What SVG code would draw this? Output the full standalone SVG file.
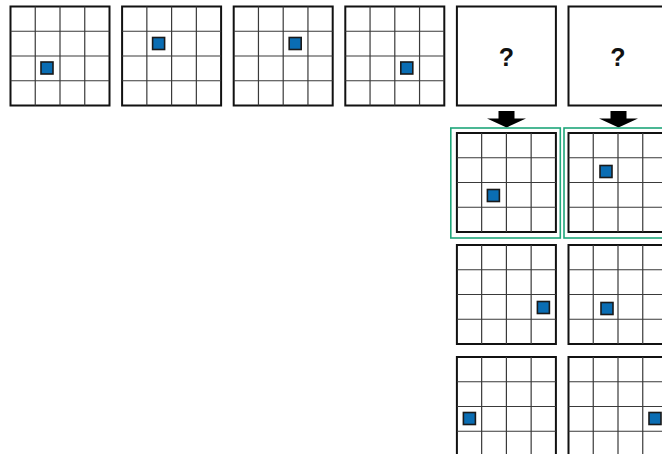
<svg xmlns="http://www.w3.org/2000/svg" xmlns:xlink="http://www.w3.org/1999/xlink" width="662" height="454" viewBox="0 0 662 454">
<style>
.border{fill:#fff;stroke:#111;stroke-width:2}
.gl{stroke:#3a3a3a;stroke-width:1.2;fill:none}
.sq{fill:#0a6db3;stroke:#1a1a1a;stroke-width:1.6}
.sel{fill:none;stroke:#1fa67a;stroke-width:1.6}
.q{font-family:"Liberation Sans",Arial,sans-serif;font-weight:bold;font-size:25px;text-anchor:middle;fill:#111}
.arr{fill:#000}
</style>
<defs>
<g id="grid">
<rect class="border" x="0" y="0" width="99" height="99"/>
<path class="gl" d="M24.75 0V99M49.5 0V99M74.25 0V99M0 24.75H99M0 49.5H99M0 74.25H99"/>
</g>
</defs>
<g id="p1" transform="translate(10.5,6.5)"><use xlink:href="#grid"/><rect class="sq" x="30.5" y="55.5" width="12" height="12"/></g>
<g id="p2" transform="translate(122.1,6.5)"><use xlink:href="#grid"/><rect class="sq" x="30.5" y="31" width="12" height="12"/></g>
<g id="p3" transform="translate(233.7,6.5)"><use xlink:href="#grid"/><rect class="sq" x="55.5" y="31" width="12" height="12"/></g>
<g id="p4" transform="translate(345.3,6.5)"><use xlink:href="#grid"/><rect class="sq" x="55.5" y="55.5" width="12" height="12"/></g>
<g id="q1" transform="translate(456.9,6.5)"><rect class="border" x="0" y="0" width="99" height="99"/><text class="q" x="49.5" y="59.5">?</text></g>
<g id="q2" transform="translate(568.5,6.5)"><rect class="border" x="0" y="0" width="99" height="99"/><text class="q" x="49.5" y="59.5">?</text></g>
<g id="connectors">
<polygon class="arr" points="498.5,111 514.5,111 514.5,118.5 526,118.5 506.5,127.5 487,118.5 498.5,118.5"/>
<polygon class="arr" points="610.5,111 626.5,111 626.5,118.5 638,118.5 618.5,127.5 599,118.5 610.5,118.5"/>
</g>
<g id="a1"><rect class="sel" x="450.8" y="128" width="109.5" height="110"/><g transform="translate(456.9,133)"><use xlink:href="#grid"/><rect class="sq" x="30.5" y="56.5" width="12" height="12"/></g></g>
<g id="b1"><rect class="sel" x="564" y="128" width="109.5" height="110"/><g transform="translate(568.5,133)"><use xlink:href="#grid"/><rect class="sq" x="31.5" y="32.5" width="12" height="12"/></g></g>
<g id="a2" transform="translate(456.9,245)"><use xlink:href="#grid"/><rect class="sq" x="80.5" y="56.5" width="12" height="12"/></g>
<g id="b2" transform="translate(568.5,245)"><use xlink:href="#grid"/><rect class="sq" x="32.5" y="57.5" width="12" height="12"/></g>
<g id="a3" transform="translate(456.9,357)"><use xlink:href="#grid"/><rect class="sq" x="6.5" y="55.5" width="12" height="12"/></g>
<g id="b3" transform="translate(568.5,357)"><use xlink:href="#grid"/><rect class="sq" x="80.5" y="55.5" width="12" height="12"/></g>
</svg>
